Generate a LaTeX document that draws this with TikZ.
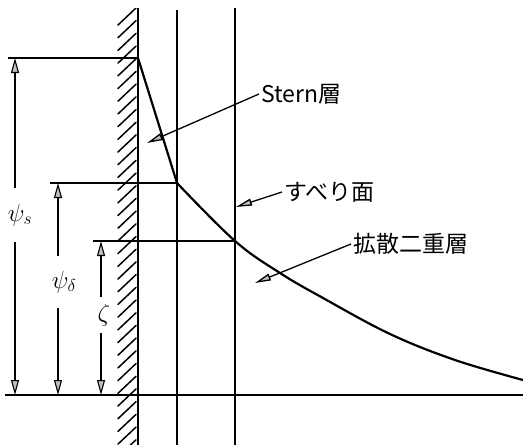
\documentclass[tikz,border=0pt]{standalone}
\usepackage{fontspec}
\newfontfamily\jpfont{Noto Sans CJK JP}
\usetikzlibrary{arrows.meta, positioning, calc}

\begin{document}
\begin{tikzpicture}[x=1pt, y=-1pt, >=Stealth]
  \tikzstyle{wall} = [line width=2.4pt]
  \tikzstyle{plane} = [line width=1.6pt]
  \tikzstyle{level} = [line width=1.3pt]
  \tikzstyle{pot} = [line width=2.2pt]
  \tikzstyle{hatch} = [line width=1.5pt, line cap=round]
  \tikzstyle{dim} = [line width=1.1pt, -{Triangle[length=15pt, width=8pt, fill=gray!50]}]
  \tikzstyle{leader} = [line width=1.3pt, -{Triangle[length=16pt, width=7pt, fill=gray!50]}]
  \tikzstyle{lbl} = [font=\jpfont\fontsize{23}{26}\selectfont, inner sep=2pt]
  \tikzstyle{sym} = [font=\fontsize{27}{30}\selectfont, inner sep=0pt]

  \useasboundingbox (0,0) rectangle (523,445);

  % wall and planes
  \coordinate (wallTop) at (138,8);
  \coordinate (wallBot) at (138,445);
  \coordinate (sternTop) at (177,10);
  \coordinate (sternBot) at (177,445);
  \coordinate (slipTop) at (235,8);
  \coordinate (slipBot) at (235,445);

  \begin{scope}
    \clip (100,8) rectangle (138,445);
    \foreach \y in {8,20.7,...,460}
      \draw[hatch] (118,\y+17) -- (136,\y);
  \end{scope}
  \draw[wall] (wallTop) -- (wallBot);
  \draw[plane] (sternTop) -- (sternBot);
  \draw[plane] (slipTop) -- (slipBot);

  % potential levels
  \coordinate (psiS) at (138,58);
  \coordinate (kink) at (177,183);
  \coordinate (slip) at (235,241);
  \coordinate (baseL) at (5,395);
  \coordinate (baseR) at (523,395);

  \coordinate (sTop) at (15,58);
  \coordinate (sBot) at (15,395);
  \coordinate (dTop) at (58,183);
  \coordinate (dBot) at (58,395);
  \coordinate (zTop) at (101,241);
  \coordinate (zBot) at (101,395);

  \draw[level] (baseL) -- (baseR);
  \draw[level] (8,58) -- (psiS);
  \draw[level] (50,183) -- (kink);
  \draw[level] (93,241) -- (slip);

  % potential curve
  \draw[pot] (psiS) -- (kink);
  \draw[pot] plot[smooth, tension=0.6] coordinates {(kink) (slip) (280,273) (323,298) (390,334) (455,360) (523,380)};

  % dimensions
  \node[sym, minimum height=54pt] (psis) at (20,215) {$\psi_s$};
  \node[sym, minimum height=51pt] (psid) at (64,282) {$\psi_\delta$};
  \node[sym, minimum height=36pt] (zeta) at (104,315) {$\zeta$};

  \draw[dim] (psis.north -| sTop) -- (sTop);
  \draw[dim] (psis.south -| sBot) -- (sBot);
  \draw[dim] (psid.north -| dTop) -- (dTop);
  \draw[dim] (psid.south -| dBot) -- (dBot);
  \draw[dim] (zeta.north -| zTop) -- (zTop);
  \draw[dim] (zeta.south -| zBot) -- (zBot);

  % labels
  \node[lbl, anchor=west] (stern) at (259,94) {Stern層};
  \node[lbl, anchor=west] (slipLbl) at (282,192) {すべり面};
  \node[lbl, anchor=west] (diff) at (351,244) {拡散二重層};

  \coordinate (sternTip) at (147,143);
  \coordinate (slipTip) at (236,207);
  \coordinate (diffTip) at (255,283);

  \draw[leader] (stern.west) -- (sternTip);
  \draw[leader] (slipLbl.west) -- (slipTip);
  \draw[leader] (diff.west) -- (diffTip);
\end{tikzpicture}
\end{document}
